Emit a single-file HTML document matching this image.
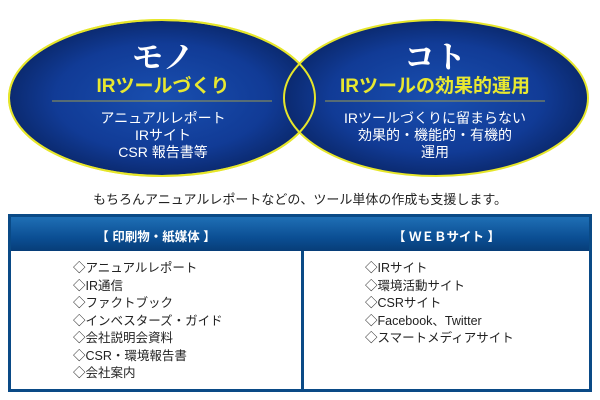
<!DOCTYPE html>
<html><head><meta charset="utf-8"><style>
body{margin:0;width:600px;height:400px;background:#fff;position:relative;overflow:hidden;font-family:"Liberation Sans","Noto Sans CJK JP",sans-serif}
.t{position:absolute;white-space:nowrap}
.tbl{position:absolute;left:8px;top:214px;width:578px;height:172px;border:3px solid #0a4a86;background:#fff}
.hd{position:absolute;left:0;top:0;width:578px;height:34px;background:linear-gradient(#1f6fb5,#0b4f94 60%,#073d78)}
.div{position:absolute;left:290px;top:34px;width:3px;height:138px;background:#0a4a86}
.li{position:absolute;font-size:12.5px;line-height:17.5px;color:#222}
</style></head><body>
<svg width="600" height="200" style="position:absolute;left:0;top:0">
<defs><radialGradient id="g" cx="50%" cy="50%" r="50%"><stop offset="0" stop-color="#194fb0"/><stop offset="0.7" stop-color="#113b96"/><stop offset="1" stop-color="#0b2a70"/></radialGradient></defs>
<ellipse cx="162" cy="98" rx="153" ry="78" fill="url(#g)" stroke="#e6e62a" stroke-width="2"/>
<ellipse cx="436" cy="98" rx="152" ry="78" fill="url(#g)" stroke="#e6e62a" stroke-width="2"/>
<ellipse cx="162" cy="98" rx="153" ry="78" fill="none" stroke="#e6e62a" stroke-width="2"/>
<line x1="52" y1="101" x2="272" y2="101" stroke="#9a9a50" stroke-width="1"/>
<line x1="325" y1="101" x2="545" y2="101" stroke="#9a9a50" stroke-width="1"/>
</svg>
<div class="t" style="left:63px;width:200px;text-align:center;top:32px;font-size:31px;font-weight:bold;color:#fff;font-family:'Liberation Serif','Noto Serif CJK SC',serif">モノ</div>
<div class="t" style="left:63px;width:200px;text-align:center;top:71px;font-size:19px;font-weight:bold;color:#e8e830">IRツールづくり</div>
<div class="t" style="left:63px;width:200px;text-align:center;top:110px;font-size:14px;line-height:17px;color:#fff">アニュアルレポート<br>IRサイト<br>CSR 報告書等</div>
<div class="t" style="left:335px;width:200px;text-align:center;top:32px;font-size:31px;font-weight:bold;color:#fff;font-family:'Liberation Serif','Noto Serif CJK SC',serif">コト</div>
<div class="t" style="left:335px;width:200px;text-align:center;top:71px;font-size:19px;font-weight:bold;color:#e8e830">IRツールの効果的運用</div>
<div class="t" style="left:335px;width:200px;text-align:center;top:110px;font-size:14px;line-height:17px;color:#fff">IRツールづくりに留まらない<br>効果的・機能的・有機的<br>運用</div>
<div class="t" style="left:0;width:600px;text-align:center;top:189px;font-size:13px;color:#222">もちろんアニュアルレポートなどの、ツール単体の作成も支援します。</div>
<div class="tbl">
<div class="hd"></div>
<div class="t" style="left:0;width:290px;text-align:center;top:9px;font-size:12.5px;font-weight:bold;color:#fff">【 印刷物・紙媒体 】</div>
<div class="t" style="left:293px;width:285px;text-align:center;top:9px;font-size:12.5px;font-weight:bold;color:#fff">【 ＷＥＢサイト 】</div>
<div class="div"></div>
<div class="li" style="left:62px;top:43px">◇アニュアルレポート<br>◇IR通信<br>◇ファクトブック<br>◇インベスターズ・ガイド<br>◇会社説明会資料<br>◇CSR・環境報告書<br>◇会社案内</div>
<div class="li" style="left:354px;top:43px">◇IRサイト<br>◇環境活動サイト<br>◇CSRサイト<br>◇Facebook、Twitter<br>◇スマートメディアサイト</div>
</div>
</body></html>
